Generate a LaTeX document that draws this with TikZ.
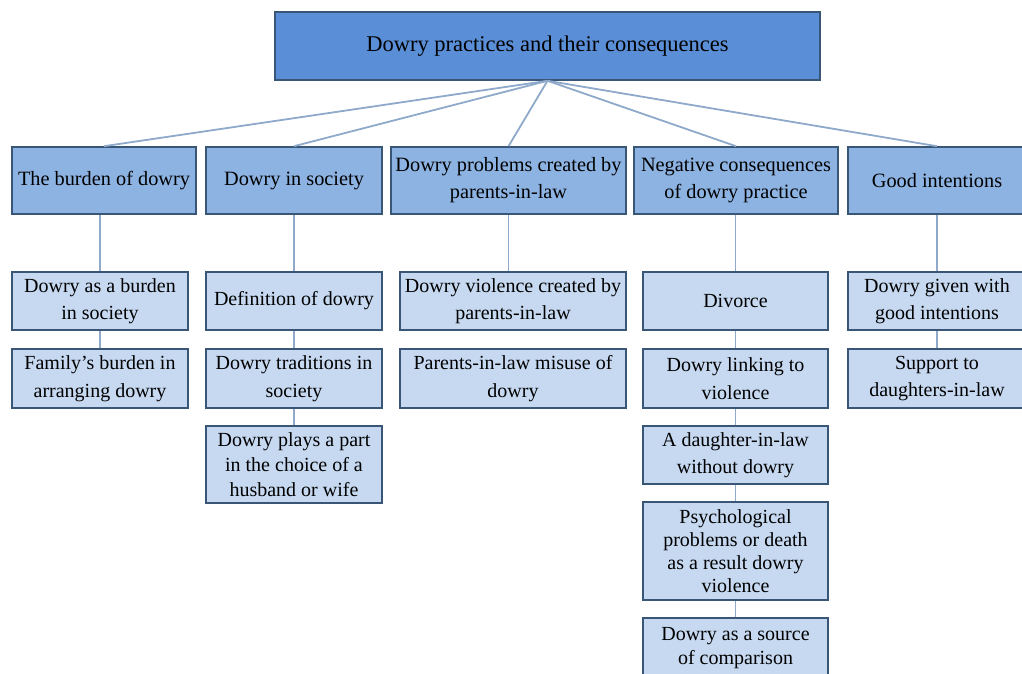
\documentclass[tikz,border=0pt]{standalone}
\usepackage{fontspec}
\setmainfont{Liberation Serif}
\usepackage{xcolor}
\definecolor{rootblue}{HTML}{5A8ED6}
\definecolor{midblue}{HTML}{8DB3E2}
\definecolor{paleblue}{HTML}{C6D9F1}
\definecolor{boxedge}{HTML}{3A5676}
\definecolor{linkblue}{HTML}{8EA9C9}
\tikzset{
  topbox/.style={draw=boxedge,fill=rootblue,line width=1.6pt,inner sep=0pt,
    minimum width=545pt,minimum height=68pt,font=\fontsize{22.5}{26}\selectfont},
  headbox/.style={draw=boxedge,fill=midblue,line width=1.6pt,inner sep=0pt,
    minimum height=67pt,align=center,font=\fontsize{20.3}{27}\selectfont},
  itembox/.style={draw=boxedge,fill=paleblue,line width=1.6pt,inner sep=0pt,
    minimum height=58pt,align=center,font=\fontsize{20}{27.5}\selectfont},
  link/.style={draw=linkblue,line width=1.8pt}
}
\begin{document}
\begin{tikzpicture}[x=1pt,y=-1pt]
\useasboundingbox (0,0) rectangle (1022,674);

\node[topbox] (root) at (547.5,46) {Dowry practices and their consequences};

\node[headbox,minimum width=184pt] (burden) at (104,180.5) {The burden of dowry};
\node[headbox,minimum width=176pt] (society) at (294,180.5) {Dowry in society};
\node[headbox,minimum width=235pt] (inlaws) at (508.5,180.5) {Dowry problems created by\\parents-in-law};
\node[headbox,minimum width=204pt] (negative) at (736,180.5) {Negative consequences\\of dowry practice};
\node[headbox,minimum width=178pt] (good) at (937,180.5) {Good intentions};

\node[itembox,minimum width=176pt] (burdenA) at (100,301) {Dowry as a burden\\in society};
\node[itembox,minimum width=176pt,minimum height=59pt] (burdenB) at (100,378.5) {Family’s burden in\\arranging dowry};

\node[itembox,minimum width=176pt] (societyA) at (294,301) {Definition of dowry};
\node[itembox,minimum width=176pt,minimum height=59pt] (societyB) at (294,378.5) {Dowry traditions in\\society};
\node[itembox,minimum width=176pt,minimum height=77pt,font=\fontsize{20}{25}\selectfont] (societyC) at (294,464.5) {Dowry plays a part\\in the choice of a\\husband or wife};

\node[itembox,minimum width=226pt] (inlawsA) at (513,301) {Dowry violence created by\\parents-in-law};
\node[itembox,minimum width=226pt,minimum height=59pt] (inlawsB) at (513,378.5) {Parents-in-law misuse of\\dowry};

\node[itembox,minimum width=185pt] (negativeA) at (735.5,301) {Divorce};
\node[itembox,minimum width=185pt,minimum height=59pt] (negativeB) at (735.5,378.5) {Dowry linking to\\violence};
\node[itembox,minimum width=185pt] (negativeC) at (735.5,455) {A daughter-in-law\\without dowry};
\node[itembox,minimum width=185pt,minimum height=98pt,font=\fontsize{20}{23}\selectfont] (negativeD) at (735.5,551) {Psychological\\problems or death\\as a result dowry\\violence};
\node[itembox,minimum width=185pt,minimum height=60pt,font=\fontsize{20}{24}\selectfont] (negativeE) at (735.5,648) {Dowry as a source\\of comparison};

\node[itembox,minimum width=178pt] (goodA) at (937,301) {Dowry given with\\good intentions};
\node[itembox,minimum width=178pt,minimum height=59pt] (goodB) at (937,378.5) {Support to\\daughters-in-law};

\draw[link] (root.south) -- (burden.north);
\draw[link] (root.south) -- (society.north);
\draw[link] (root.south) -- (inlaws.north);
\draw[link] (root.south) -- (negative.north);
\draw[link] (root.south) -- (good.north);

\draw[link] (burdenA.north |- burden.south) -- (burdenA.north);
\draw[link] (burdenA.south) -- (burdenB.north);

\draw[link] (society.south) -- (societyA.north);
\draw[link] (societyA.south) -- (societyB.north);
\draw[link] (societyB.south) -- (societyC.north);

\draw[link] (inlaws.south) -- (inlaws.south |- inlawsA.north);

\draw[link] (negativeA.north |- negative.south) -- (negativeA.north);
\draw[link] (negativeA.south) -- (negativeB.north);
\draw[link] (negativeB.south) -- (negativeC.north);
\draw[link] (negativeC.south) -- (negativeD.north);
\draw[link] (negativeD.south) -- (negativeE.north);

\draw[link] (good.south) -- (goodA.north);
\draw[link] (goodA.south) -- (goodB.north);

\end{tikzpicture}
\end{document}
